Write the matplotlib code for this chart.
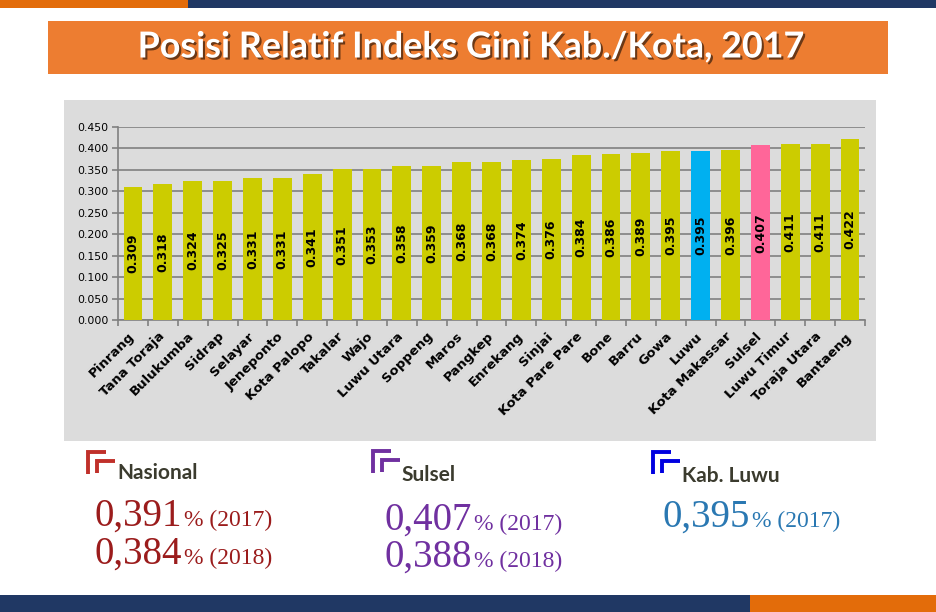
import matplotlib
matplotlib.use("Agg")
import matplotlib.pyplot as plt
import matplotlib.patheffects as pe
import matplotlib.transforms as mtransforms
from matplotlib.patches import Rectangle
import numpy as np

categories = ["Pinrang", "Tana Toraja", "Bulukumba", "Sidrap", "Selayar", "Jeneponto",
              "Kota Palopo", "Takalar", "Wajo", "Luwu Utara", "Soppeng", "Maros",
              "Pangkep", "Enrekang", "Sinjai", "Kota Pare Pare", "Bone", "Barru",
              "Gowa", "Luwu", "Kota Makassar", "Sulsel", "Luwu Timur", "Toraja Utara",
              "Bantaeng"]
values = [0.309, 0.318, 0.324, 0.325, 0.331, 0.331, 0.341, 0.351, 0.353, 0.358,
          0.359, 0.368, 0.368, 0.374, 0.376, 0.384, 0.386, 0.389, 0.395, 0.395,
          0.396, 0.407, 0.411, 0.411, 0.422]
highlight = {"Luwu": "#00B0F0", "Sulsel": "#FF6699"}
base_color = "#CCCC00"
y_ticks = [0.0, 0.05, 0.10, 0.15, 0.20, 0.25, 0.30, 0.35, 0.40, 0.45]

W, H = 936, 612
fig = plt.figure(figsize=(W / 100, H / 100), dpi=100)

# overlay axes in pixel coordinates for decorations
ov = fig.add_axes([0, 0, 1, 1], zorder=0)
ov.set_xlim(0, W)
ov.set_ylim(H, 0)
ov.axis("off")

ov.add_patch(Rectangle((0, 0), 188, 8, color="#E36C0A", lw=0))
ov.add_patch(Rectangle((188, 0), W - 188, 8, color="#203864", lw=0))
ov.add_patch(Rectangle((0, 595), 750, 17, color="#203864", lw=0))
ov.add_patch(Rectangle((750, 595), W - 750, 17, color="#E36C0A", lw=0))
ov.add_patch(Rectangle((48, 21), 840, 53, color="#ED7D31", lw=0))
ov.add_patch(Rectangle((64, 100), 812, 341, color="#DCDCDC", lw=0))

title_font = ["Lato", "DejaVu Sans"]
ov.text(471, 47, "Posisi Relatif Indeks Gini Kab./Kota, 2017", color="white",
        fontsize=25.8, fontweight="bold", family=title_font, ha="center", va="center",
        path_effects=[pe.withSimplePatchShadow(offset=(1.5, -1.5), shadow_rgbFace="black", alpha=0.55)])

# chart axes
ax = fig.add_axes([118 / W, 1 - 320 / H, (865 - 118) / W, (320 - 127) / H], zorder=1)
ax.set_facecolor("none")
x = np.arange(len(categories))
colors = [highlight.get(c, base_color) for c in categories]
ax.bar(x, values, width=0.63, color=colors, zorder=3)
for xi, v in zip(x, values):
    ax.text(xi, v / 2, f"{v:.3f}", rotation=90, ha="center", va="center",
            fontsize=9, fontweight="bold", color="black", zorder=4)
ax.set_xlim(-0.5, len(categories) - 0.5)
ax.set_ylim(0, 0.45)
ax.set_yticks(y_ticks)
ax.set_yticklabels([f"{t:.3f}" for t in y_ticks], fontsize=7.8, color="black")
ax.yaxis.grid(True, color="#808080", lw=1.2, zorder=0)
ax.set_axisbelow(True)
for s in ["top", "right"]:
    ax.spines[s].set_visible(False)
for s in ["left", "bottom"]:
    ax.spines[s].set_color("#808080")
    ax.spines[s].set_linewidth(1.2)
ax.tick_params(axis="y", length=4, color="#808080", width=1.2, pad=3)
ax.set_xticks(x)
ax.set_xticklabels(categories, rotation=45, ha="right", va="top", rotation_mode="anchor",
                   fontsize=9.5, fontweight="bold")
ax.tick_params(axis="x", which="major", length=0, pad=7)
offset = mtransforms.ScaledTranslation(-5 / 100, 0, fig.dpi_scale_trans)
for lab in ax.get_xticklabels():
    lab.set_transform(lab.get_transform() + offset)
ax.set_xticks(np.arange(-0.5, len(categories), 1.0), minor=True)
ax.tick_params(axis="x", which="minor", length=4, color="#808080", width=1.2)

# bottom annotations
def icon(x0, y0, color):
    ov.plot([x0, x0, x0 + 18], [y0 + 22, y0, y0], color=color, lw=2.8,
            solid_capstyle="butt", solid_joinstyle="miter")
    ov.plot([x0 + 9, x0 + 9, x0 + 27], [y0 + 21, y0 + 9, y0 + 9], color=color, lw=2.8,
            solid_capstyle="butt", solid_joinstyle="miter")

label_font = ["Lato", "DejaVu Sans"]
serif = ["Liberation Serif", "DejaVu Serif"]

blocks = [
    (88, 452, "#C0302A", 117, 479, "Nasional", 95,
     [("0,391", "% (2017)", 526), ("0,384", "% (2018)", 564)], "#9B1C1C"),
    (373, 451, "#7030A0", 401, 481, "Sulsel", 385,
     [("0,407", "% (2017)", 530), ("0,388", "% (2018)", 567)], "#7030A0"),
    (653, 452, "#0000E0", 682, 482, "Kab. Luwu", 663,
     [("0,395", "% (2017)", 527)], "#2A78B2"),
]
for ix, iy, icol, tx, ty, name, vx, rows, vcol in blocks:
    icon(ix, iy, icol)
    ov.text(tx, ty, name, fontsize=15, family=label_font, fontweight="bold",
            color="#3B3B2E", ha="left", va="baseline")
    for big, small, by in rows:
        t = ov.text(vx, by, big, fontsize=28, family=serif, color=vcol, ha="left", va="baseline")
        fig.canvas.draw()
        bb = t.get_window_extent()
        x_end = bb.x1
        ov.text(x_end + 1.5, by, small, fontsize=17, family=serif, color=vcol,
                ha="left", va="baseline")

fig.savefig("out.png", dpi=100)
